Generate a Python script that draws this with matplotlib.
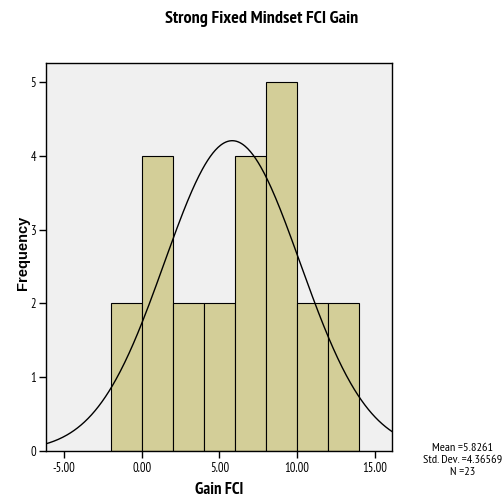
import numpy as np
import matplotlib
matplotlib.use("Agg")
import matplotlib.pyplot as plt
from matplotlib import font_manager

def _w(f):
    try:
        return int(f.weight)
    except Exception:
        return 700 if str(f.weight).lower() == 'bold' else 400

bold_names = {f.name for f in font_manager.fontManager.ttflist if _w(f) >= 700}
reg_names = {f.name for f in font_manager.fontManager.ttflist if _w(f) <= 500}
narrow = 'Liberation Sans'
for cand in ['Liberation Sans Narrow', 'Arial Narrow', 'Archivo Narrow', 'PT Sans Narrow',
             'Roboto Condensed', 'IBM Plex Sans Condensed', 'Open Sans Condensed',
             'Sofia Sans Condensed', 'Asap Condensed', 'Fira Sans Condensed',
             'Encode Sans Condensed', 'Barlow Semi Condensed', 'Saira SemiCondensed']:
    if cand in bold_names and cand in reg_names:
        narrow = cand
        break
plt.rcParams['font.family'] = [narrow, 'Liberation Sans', 'DejaVu Sans']

bin_edges = [-2, 0, 2, 4, 6, 8, 10, 12, 14]
counts = [2, 4, 2, 2, 4, 5, 2, 2]
mean_val = 5.8261
std_val = 4.36569
n_val = 23
xticks = [-5, 0, 5, 10, 15]
xtick_labels = ["-5.00", "0.00", "5.00", "10.00", "15.00"]
yticks = [0, 1, 2, 3, 4, 5]

W, H = 504, 499
fig = plt.figure(figsize=(W/100, H/100), dpi=100)
ax = fig.add_axes([46/W, 1-451/H, (392-46)/W, (451-62.7)/H])
ax.set_facecolor('#F0F0F0')

lefts = bin_edges[:-1]
widths = np.diff(bin_edges)
ax.bar(lefts, counts, width=widths, align='edge', color='#D3CE98', edgecolor='black', linewidth=0.8)

xs = np.linspace(-6.2, 16.2, 400)
bw = bin_edges[1] - bin_edges[0]
ys = n_val * bw * np.exp(-0.5 * ((xs - mean_val) / std_val) ** 2) / (std_val * np.sqrt(2 * np.pi))
ax.plot(xs, ys, color='black', linewidth=1.0)

ax.set_xlim(-6.15, 16.1)
ax.set_ylim(0, 5.26)
ax.set_xticks(xticks)
ax.set_xticklabels(xtick_labels, fontsize=9)
ax.set_yticks(yticks)
ax.set_yticklabels([str(v) for v in yticks], fontsize=9)
ax.tick_params(axis='x', direction='out', length=5, width=1, pad=3)
ax.tick_params(axis='y', direction='out', length=5, width=1, pad=2)
for s in ax.spines.values():
    s.set_linewidth(1.0)

fig.text(219/W, 1-490/H, 'Gain FCI', ha='center', va='center', fontsize=12, fontweight='bold')
fig.text(23/W, 1-252.5/H, 'Frequency', ha='center', va='center', rotation=90,
         fontsize=10.5, fontweight='bold', family=['Liberation Sans', 'DejaVu Sans'])
fig.text(262/W, 1-19/H, 'Strong Fixed Mindset FCI Gain', ha='center', va='center',
         fontsize=13, fontweight='bold')

fig.text(463/W, 1-460/H, 'Mean =%.4f\nStd. Dev. =%.5f\nN =%d' % (mean_val, std_val, n_val),
         ha='center', va='center', fontsize=8.8, linespacing=1.2)

fig.savefig('out.png', dpi=100)
